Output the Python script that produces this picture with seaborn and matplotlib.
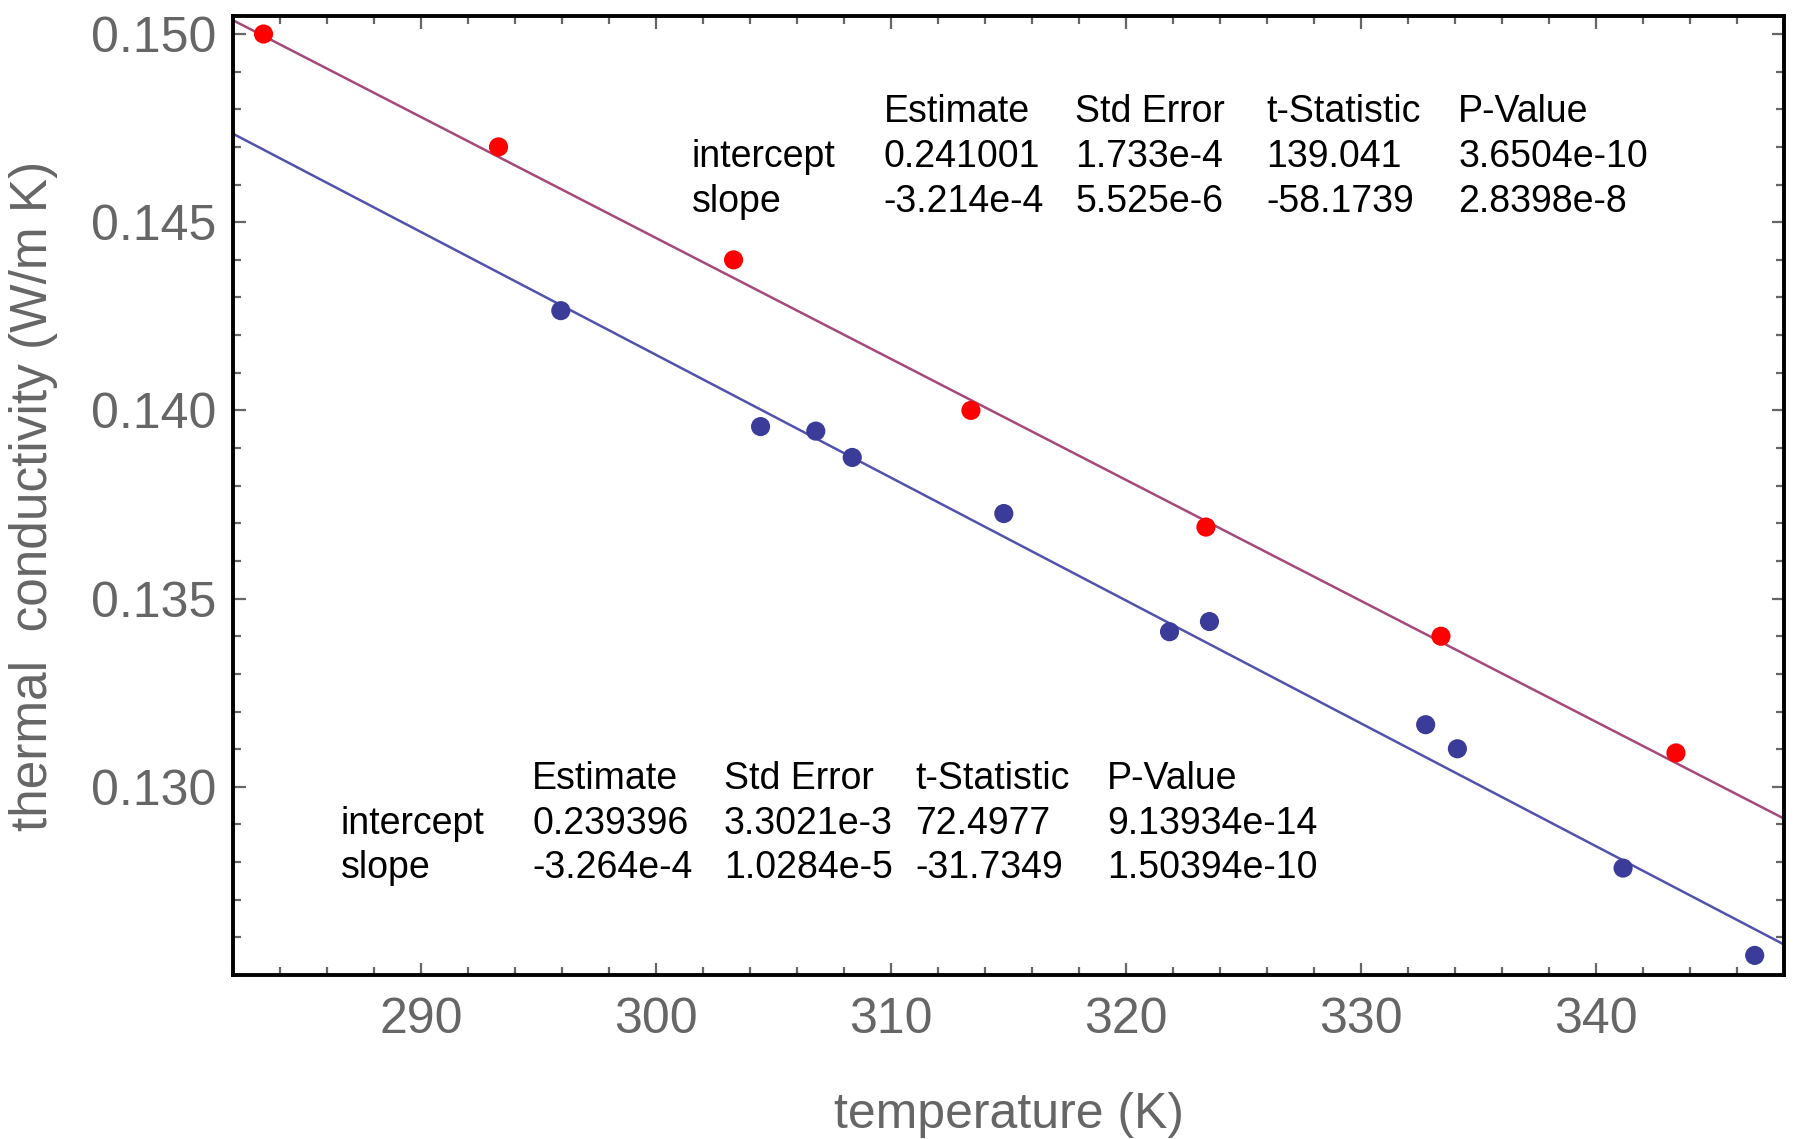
import numpy as np
import pandas as pd
import matplotlib
matplotlib.use("Agg")
import matplotlib.pyplot as plt
from matplotlib.ticker import MultipleLocator
import seaborn as sns

# Measured thermal conductivity, two sample series
temp_a = [283.3, 293.3, 303.3, 313.4, 323.4, 333.4, 343.4]
cond_a = [0.1500, 0.1470, 0.1440, 0.1400, 0.1369, 0.1340, 0.1309]

temp_b = [295.95, 304.45, 306.8, 308.35, 314.8, 321.85, 323.55, 332.75, 334.1, 341.15, 346.75]
cond_b = [0.14265, 0.13957, 0.13945, 0.13875, 0.13726, 0.13412, 0.13439,
          0.13165, 0.13101, 0.12784, 0.12552]

# Linear fit summaries (intercept row, slope row)
fit_cols = ["Estimate", "Std Error", "t-Statistic", "P-Value"]
fit_rows = ["intercept", "slope"]
fit_a = [["0.241001", "1.733e-4", "139.041", "3.6504e-10"],
         ["-3.214e-4", "5.525e-6", "-58.1739", "2.8398e-8"]]
fit_b = [["0.239396", "3.3021e-3", "72.4977", "9.13934e-14"],
         ["-3.264e-4", "1.0284e-5", "-31.7349", "1.50394e-10"]]
intercept_a, slope_a = 0.241001, -3.214e-4
intercept_b, slope_b = 0.239396, -3.264e-4

x_ticks = [290, 300, 310, 320, 330, 340]
y_ticks = [0.130, 0.135, 0.140, 0.145, 0.150]
x_range = (282.0, 348.0)
y_range = (0.1250, 0.15048)

sns.set_theme(style="white")
plt.rcParams["font.family"] = ["Liberation Sans", "DejaVu Sans"]

fig = plt.figure(figsize=(17.99, 11.39), dpi=100)
ax = fig.add_axes([0.1295, 0.144, 0.8622, 0.842])

df_a = pd.DataFrame({"T": temp_a, "k": cond_a})
df_b = pd.DataFrame({"T": temp_b, "k": cond_b})

xs = np.linspace(x_range[0], x_range[1], 200)
line_a = pd.DataFrame({"T": xs, "k": intercept_a + slope_a * xs})
line_b = pd.DataFrame({"T": xs, "k": intercept_b + slope_b * xs})

red_line = "#a5487a"
blue_line = "#5252ad"
sns.lineplot(data=line_a, x="T", y="k", ax=ax, color=red_line, lw=1.8)
sns.lineplot(data=line_b, x="T", y="k", ax=ax, color=blue_line, lw=1.8)
sns.scatterplot(data=df_a, x="T", y="k", ax=ax, color="#ff0000", s=190,
                edgecolor="none", zorder=3)
sns.scatterplot(data=df_b, x="T", y="k", ax=ax, color="#3b3b9a", s=190,
                edgecolor="none", zorder=3)

ax.set_xlim(*x_range)
ax.set_ylim(*y_range)
ax.set_xticks(x_ticks)
ax.set_yticks(y_ticks)
ax.set_yticklabels([f"{v:.3f}" for v in y_ticks])
ax.xaxis.set_minor_locator(MultipleLocator(2))
ax.yaxis.set_minor_locator(MultipleLocator(0.001))

tick_grey = "#666666"
ax.tick_params(which="both", direction="in", bottom=True, left=True,
               top=True, right=True, color=tick_grey, width=1.6)
ax.tick_params(which="major", length=9)
ax.tick_params(which="minor", length=5.5)
ax.tick_params(axis="x", which="major", labelsize=36, labelcolor=tick_grey, pad=16)
ax.tick_params(axis="y", which="major", labelsize=36, labelcolor=tick_grey, pad=12)

for sp in ax.spines.values():
    sp.set_color("black")
    sp.set_linewidth(2.8)
    sp.set_visible(True)

ax.set_xlabel("temperature (K)", fontsize=36, color=tick_grey, labelpad=35)
ax.set_ylabel("thermal  conductivity (W/m K)", fontsize=37, color=tick_grey, labelpad=24)
ax.grid(False)


def draw_table(x0, y0, rows_vals, dx=0.1235, dy=0.0466, size=27):
    for j, name in enumerate(fit_cols):
        ax.text(x0 + dx * (j + 1), y0, name, transform=ax.transAxes,
                fontsize=size, color="black", va="center", ha="left")
    for i, rname in enumerate(fit_rows):
        yy = y0 - dy * (i + 1)
        ax.text(x0, yy, rname, transform=ax.transAxes, fontsize=size,
                color="black", va="center", ha="left")
        for j, val in enumerate(rows_vals[i]):
            ax.text(x0 + dx * (j + 1), yy, val, transform=ax.transAxes,
                    fontsize=size, color="black", va="center", ha="left")


draw_table(0.2959, 0.8995, fit_a)
draw_table(0.0695, 0.2045, fit_b)

fig.savefig("out.png", dpi=100)
